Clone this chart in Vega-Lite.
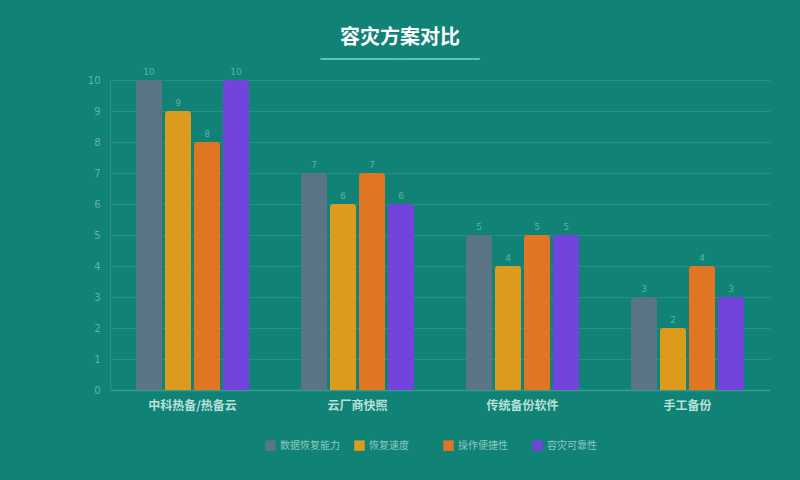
{
  "$schema": "https://vega.github.io/schema/vega-lite/v6.json",
  "autosize": {"type": "none"},
  "width": 660,
  "height": 310,
  "padding": {"left": 110, "top": 80, "right": 30, "bottom": 90},
  "background": "#118276",
  "config": {
    "view": {"stroke": null},
    "font": "Noto Sans CJK SC"
  },
  "title": {
    "text": "容灾方案对比",
    "subtitle": "━━━━━━━━━━━━━━━━━━━━━━",
    "fontSize": 20,
    "fontWeight": "bold",
    "color": "#ffffff",
    "anchor": "middle",
    "dx": -40,
    "offset": 3,
    "font": "Noto Sans CJK SC",
    "subtitleFont": "DejaVu Sans",
    "subtitleFontSize": 12,
    "subtitleColor": "#5ec3b3",
    "subtitlePadding": 6
  },
  "data": {
    "values": [
      {"方案": "中科热备/热备云", "指标": "数据恢复能力", "得分": 10},
      {"方案": "中科热备/热备云", "指标": "恢复速度", "得分": 9},
      {"方案": "中科热备/热备云", "指标": "操作便捷性", "得分": 8},
      {"方案": "中科热备/热备云", "指标": "容灾可靠性", "得分": 10},
      {"方案": "云厂商快照", "指标": "数据恢复能力", "得分": 7},
      {"方案": "云厂商快照", "指标": "恢复速度", "得分": 6},
      {"方案": "云厂商快照", "指标": "操作便捷性", "得分": 7},
      {"方案": "云厂商快照", "指标": "容灾可靠性", "得分": 6},
      {"方案": "传统备份软件", "指标": "数据恢复能力", "得分": 5},
      {"方案": "传统备份软件", "指标": "恢复速度", "得分": 4},
      {"方案": "传统备份软件", "指标": "操作便捷性", "得分": 5},
      {"方案": "传统备份软件", "指标": "容灾可靠性", "得分": 5},
      {"方案": "手工备份", "指标": "数据恢复能力", "得分": 3},
      {"方案": "手工备份", "指标": "恢复速度", "得分": 2},
      {"方案": "手工备份", "指标": "操作便捷性", "得分": 4},
      {"方案": "手工备份", "指标": "容灾可靠性", "得分": 3}
    ]
  },
  "encoding": {
    "x": {
      "field": "方案", "type": "nominal", "sort": null,
      "scale": {"paddingInner": 0.315, "paddingOuter": 0.1575},
      "axis": {
        "title": null, "labelAngle": 0, "labelFontSize": 12, "labelFontWeight": "bold",
        "labelColor": "#b8e0d8", "labelPadding": 10, "ticks": false,
        "domainColor": "#3a9a90", "domainWidth": 1.5
      }
    },
    "xOffset": {
      "field": "指标", "type": "nominal", "sort": null,
      "scale": {"paddingInner": 0.103, "paddingOuter": 0}
    },
    "y": {
      "field": "得分", "type": "quantitative",
      "scale": {"domain": [0, 10]},
      "axis": {
        "title": null, "tickCount": 10, "labelFontSize": 10, "labelColor": "#62b3a9",
        "labelPadding": 10, "ticks": false, "domain": true, "domainColor": "#2a8f85",
        "gridColor": "#2a8f85", "gridWidth": 1, "labelFont": "DejaVu Sans"
      }
    }
  },
  "layer": [
    {
      "mark": {"type": "bar", "cornerRadiusTopLeft": 3, "cornerRadiusTopRight": 3},
      "encoding": {
        "color": {
          "field": "指标", "type": "nominal", "sort": null,
          "scale": {
            "domain": ["数据恢复能力", "恢复速度", "操作便捷性", "容灾可靠性"],
            "range": ["#5a7586", "#dc9b1c", "#e07524", "#7244dc"]
          },
          "legend": {
            "title": null, "orient": "none", "legendX": 155, "legendY": 360,
            "direction": "horizontal",
            "symbolType": "square", "symbolSize": 110, "symbolStrokeWidth": 0,
            "labelFontSize": 10, "labelColor": "#8ccac0", "gridAlign": "all",
            "columnPadding": 14, "labelOffset": 4
          }
        }
      }
    },
    {
      "mark": {"type": "text", "dy": -8, "fontSize": 9, "color": "#5fb0a6", "font": "DejaVu Sans"},
      "encoding": {
        "text": {"field": "得分", "type": "quantitative"}
      }
    }
  ]
}
